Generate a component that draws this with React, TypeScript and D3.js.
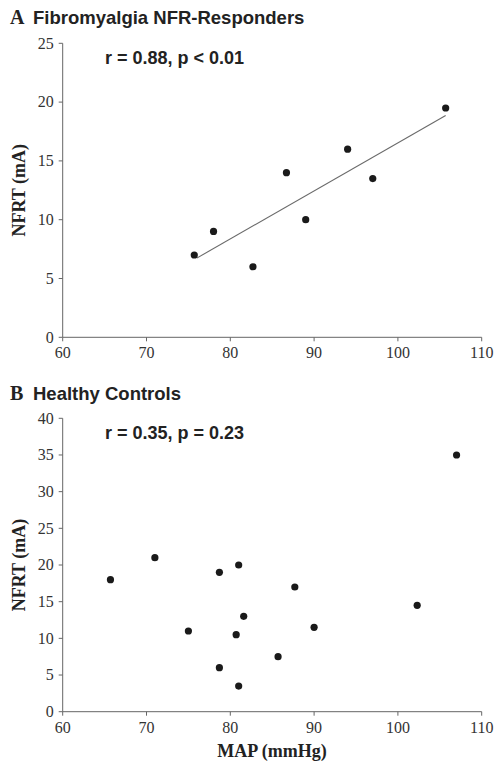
import React from "react";
import * as d3 from "d3";

// Panel A: Fibromyalgia NFR-Responders
const mapA = [75.7, 78.0, 82.7, 86.7, 89.0, 94.0, 97.0, 105.7];
const nfrtA = [7, 9, 6, 14, 10, 16, 13.5, 19.5];
// Panel B: Healthy Controls
const mapB = [65.7, 71.0, 75.0, 78.7, 78.7, 81.0, 80.7, 81.6, 81.0, 85.7, 87.7, 90.0, 102.3, 107.0];
const nfrtB = [18, 21, 11, 19, 6, 20, 10.5, 13, 3.5, 7.5, 17, 11.5, 14.5, 35];

const xTicks = [60, 70, 80, 90, 100, 110];
const yTicksA = [0, 5, 10, 15, 20, 25];
const yTicksB = [0, 5, 10, 15, 20, 25, 30, 35, 40];

const titleA = "Fibromyalgia NFR-Responders";
const titleB = "Healthy Controls";
const statA = "r = 0.88, p < 0.01";
const statB = "r = 0.35, p = 0.23";
const yLabel = "NFRT (mA)";
const xLabel = "MAP (mmHg)";

const SERIF = "'Liberation Serif', 'Times New Roman', serif";
const SANS = "'Liberation Sans', Arial, sans-serif";

type PanelProps = {
  top: number;
  bottom: number;
  xs: number[];
  ys: number[];
  yTicks: number[];
  yMax: number;
  letter: string;
  title: string;
  stat: string;
  fit: boolean;
  titleY: number;
};

function Panel({ top, bottom, xs, ys, yTicks, yMax, letter, title, stat, fit, titleY }: PanelProps) {
  const x = d3.scaleLinear().domain([60, 110]).range([62.7, 481.7]);
  const y = d3.scaleLinear().domain([0, yMax]).range([bottom, top]);
  const axisColor = "#666";
  const pts = xs.map((v, i) => [v, ys[i]] as [number, number]);

  let fitLine: React.ReactNode = null;
  if (fit) {
    const mx = d3.mean(xs)!;
    const my = d3.mean(ys)!;
    const sxy = d3.sum(pts, (p) => (p[0] - mx) * (p[1] - my));
    const sxx = d3.sum(xs, (v) => (v - mx) * (v - mx));
    const b = sxy / sxx;
    const a = my - b * mx;
    const [x0, x1] = d3.extent(xs) as [number, number];
    const line = d3.line<number>().x((v) => x(v)).y((v) => y(a + b * v));
    fitLine = <path d={line([x0 + 0.3, x1])!} stroke="#6a6a6a" strokeWidth={1.1} fill="none" />;
  }

  return (
    <g>
      <text x={10} y={titleY} fontFamily={SERIF} fontWeight="bold" fontSize={20} fill="#222">
        {letter}
      </text>
      <text x={33} y={titleY} fontFamily={SANS} fontWeight="bold" fontSize={18.5} fill="#222">
        {title}
      </text>
      {/* y axis */}
      <line x1={x(60)} x2={x(60)} y1={y(yMax)} y2={y(0)} stroke={axisColor} strokeWidth={1} />
      {yTicks.map((t) => (
        <g key={"y" + t}>
          <line x1={x(60) - 4} x2={x(60)} y1={y(t)} y2={y(t)} stroke={axisColor} strokeWidth={1} />
          <text x={x(60) - 9} y={y(t)} dy="0.33em" textAnchor="end" fontFamily={SERIF} fontSize={16} fill="#333">
            {t}
          </text>
        </g>
      ))}
      {/* x axis */}
      <line x1={x(60)} x2={x(110)} y1={y(0)} y2={y(0)} stroke={axisColor} strokeWidth={1} />
      {xTicks.map((t) => (
        <g key={"x" + t}>
          <line x1={x(t)} x2={x(t)} y1={y(0)} y2={y(0) + 4} stroke={axisColor} strokeWidth={1} />
          <text x={x(t)} y={y(0) + 21} textAnchor="middle" fontFamily={SERIF} fontSize={16} fill="#333">
            {t}
          </text>
        </g>
      ))}
      <text
        transform={`translate(25, ${(top + bottom) / 2}) rotate(-90)`}
        textAnchor="middle"
        fontFamily={SERIF}
        fontWeight="bold"
        fontSize={18}
        fill="#222"
      >
        {yLabel}
      </text>
      <text x={105} y={top + 21} fontFamily={SANS} fontWeight="bold" fontSize={18} fill="#222">
        {stat}
      </text>
      {fitLine}
      {pts.map((p, i) => (
        <circle key={i} cx={x(p[0])} cy={y(p[1])} r={3.6} fill="#1a1a1a" />
      ))}
    </g>
  );
}

export default function App() {
  return (
    <svg
      width={504}
      height={769}
      style={{ position: "absolute", left: 0, top: 0, background: "#fff" }}
    >
      <rect width={504} height={769} fill="#fff" />
      <Panel
        top={43.3}
        bottom={337.3}
        xs={mapA}
        ys={nfrtA}
        yTicks={yTicksA}
        yMax={25}
        letter="A"
        title={titleA}
        stat={statA}
        fit={true}
        titleY={24}
      />
      <Panel
        top={418.3}
        bottom={711.7}
        xs={mapB}
        ys={nfrtB}
        yTicks={yTicksB}
        yMax={40}
        letter="B"
        title={titleB}
        stat={statB}
        fit={false}
        titleY={400}
      />
      <text x={272} y={757} textAnchor="middle" fontFamily={SERIF} fontWeight="bold" fontSize={18} fill="#222">
        {xLabel}
      </text>
    </svg>
  );
}
